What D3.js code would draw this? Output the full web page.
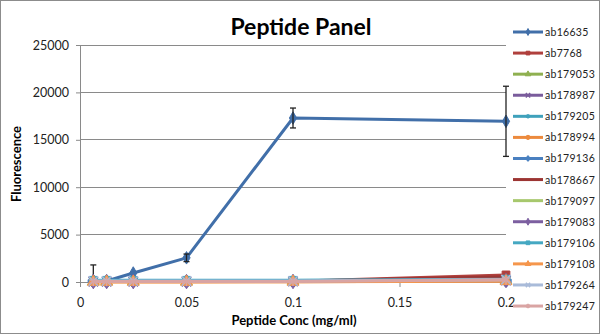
<!DOCTYPE html>
<html><head><meta charset="utf-8">
<script src="https://cdn.jsdelivr.net/npm/d3@7"></script>
<style>
body{margin:0;background:#fff;}
svg{display:block;font-family:Lato,"Open Sans",sans-serif;}
</style></head>
<body><svg id="c" width="600" height="334"></svg>
<script>
const concs = [0.00625, 0.0125, 0.025, 0.05, 0.1, 0.2];
const xTicks = [0, 0.05, 0.1, 0.15, 0.2];
const xTickLabels = ["0", "0.05", "0.1", "0.15", "0.2"];
const yTicks = [0, 5000, 10000, 15000, 20000, 25000];
const seriesNames = ["ab16635","ab7768","ab179053","ab178987","ab179205","ab178994","ab179136","ab178667","ab179097","ab179083","ab179106","ab179108","ab179264","ab179247"];
const seriesColors = ["#416fa9","#b0403d","#8fb050","#7a5c9c","#3fa1bb","#ec8a3d","#4a80c0","#9c3533","#a7c86d","#7c5fa0","#45a8c2","#f5964c","#a9bbd9","#d9a4a3"];
const v_ab16635  = [150, 100, 950, 2550, 17300, 16950];
const e_ab16635  = [1650, 0, 0, 400, 1050, 3700];
const v_ab7768   = [60, 50, 60, 60, 80, 750];
const v_ab179053 = [40, 40, 40, 40, 50, 150];
const v_ab178987 = [40, 40, 40, 40, 50, 150];
const v_ab179205 = [150, 150, 150, 150, 150, 250];
const v_ab178994 = [20, 20, 20, 20, 30, 100];
const v_ab179136 = [60, 60, 60, 60, 60, 120];
const v_ab178667 = [70, 70, 70, 70, 90, 550];
const v_ab179097 = [40, 40, 40, 40, 50, 150];
const v_ab179083 = [40, 40, 40, 40, 50, 150];
const v_ab179106 = [180, 180, 180, 180, 180, 300];
const v_ab179108 = [10, 10, 10, 10, 20, 80];
const v_ab179264 = [100, 100, 100, 100, 100, 250];
const v_ab179247 = [40, 40, 40, 40, 60, 230];
const allValues = [v_ab16635,v_ab7768,v_ab179053,v_ab178987,v_ab179205,v_ab178994,v_ab179136,v_ab178667,v_ab179097,v_ab179083,v_ab179106,v_ab179108,v_ab179264,v_ab179247];
const markerKinds = ["diamond","square","triangle","cross","star","circle","plus","none","none","diamond","square","triangle","cross","star"];

const svg = d3.select("#c");
svg.append("rect").attr("x",0.5).attr("y",0.5).attr("width",599).attr("height",333)
  .attr("fill","#fff").attr("stroke","#8c8c8c");

const x = d3.scaleLinear().domain([0,0.2]).range([80,506]);
const y = d3.scaleLinear().domain([0,25000]).range([282,45]);

// grid
svg.append("g").selectAll("line").data(yTicks.filter(d=>d>0)).join("line")
  .attr("x1",80).attr("x2",506).attr("y1",d=>y(d)).attr("y2",d=>y(d))
  .attr("stroke","#8a8a8a").attr("stroke-width",1).attr("shape-rendering","crispEdges");

// axes
const yAxis = svg.append("g").attr("transform","translate(80,0)")
  .call(d3.axisLeft(y).tickValues(yTicks).tickSize(4).tickPadding(7).tickFormat(d3.format("d")));
const xAxis = svg.append("g").attr("transform","translate(0,282)")
  .call(d3.axisBottom(x).tickValues(xTicks).tickSize(5).tickPadding(11).tickFormat((d,i)=>xTickLabels[i]));
[yAxis,xAxis].forEach(a=>{
  a.select(".domain").attr("stroke","#8a8a8a");
  a.selectAll(".tick line").attr("stroke","#8a8a8a");
  a.selectAll("text").attr("fill","#222").style("font-size","12.5px").style("font-family","Lato,sans-serif");
});

const symMap = {diamond:d3.symbolDiamond, square:d3.symbolSquare, triangle:d3.symbolTriangle, cross:d3.symbolX, star:d3.symbolAsterisk, circle:d3.symbolCircle, plus:d3.symbolCross};
function drawMarker(g, kind, cx, cy, color, size){
  if(kind==="none") return;
  const filled = !(kind==="cross"||kind==="star");
  g.append("path").attr("d", d3.symbol().type(symMap[kind]).size(size)())
    .attr("transform",`translate(${cx},${cy})`)
    .attr("fill", filled?color:"none").attr("stroke", color).attr("stroke-width", filled?1:1.5);
}

const line = d3.line().x((d,i)=>x(concs[i])).y(d=>y(d));
const plot = svg.append("g");
allValues.forEach((vals,si)=>{
  const col = seriesColors[si];
  const g = plot.append("g");
  g.append("path").datum(vals).attr("d",line).attr("fill","none")
    .attr("stroke",col).attr("stroke-width",3).attr("stroke-linejoin","round");
  vals.forEach((v,i)=>drawMarker(g, markerKinds[si], x(concs[i]), y(v), col, si===0?45:60));
  if(si===0){
    vals.forEach((v,i)=>{
      const e = e_ab16635[i]; if(!e) return;
      const cx = x(concs[i]);
      const eg = plot.append("g").attr("stroke","#222").attr("stroke-width",1.3);
      eg.append("line").attr("x1",cx).attr("x2",cx).attr("y1",y(v+e)).attr("y2",y(Math.max(0,v-e)));
      eg.append("line").attr("x1",cx-3).attr("x2",cx+3).attr("y1",y(v+e)).attr("y2",y(v+e));
      if(v-e>0) eg.append("line").attr("x1",cx-3).attr("x2",cx+3).attr("y1",y(v-e)).attr("y2",y(v-e));
    });
  }
});

// title
svg.append("text").attr("x",301).attr("y",35).attr("text-anchor","middle")
  .style("font-size","23px").style("font-weight","bold").attr("fill","#000").text("Peptide Panel");
svg.append("text").attr("transform","translate(21,164) rotate(-90)").attr("text-anchor","middle")
  .style("font-size","13px").style("font-weight","bold").attr("fill","#000").text("Fluorescence");
svg.append("text").attr("x",294).attr("y",325).attr("text-anchor","middle")
  .style("font-size","13px").style("font-weight","bold").attr("fill","#000").text("Peptide Conc (mg/ml)");

// legend
const leg = svg.append("g");
seriesNames.forEach((n,i)=>{
  const ly = 32 + i*21.08;
  const col = seriesColors[i];
  leg.append("line").attr("x1",513).attr("x2",543).attr("y1",ly).attr("y2",ly)
    .attr("stroke",col).attr("stroke-width",3);
  drawMarker(leg, markerKinds[i], 528, ly, col, 14);
  leg.append("text").attr("x",545).attr("y",ly+4).style("font-size","10.5px")
    .style("letter-spacing","0.3px").attr("fill","#222").text(n);
});
</script></body></html>
